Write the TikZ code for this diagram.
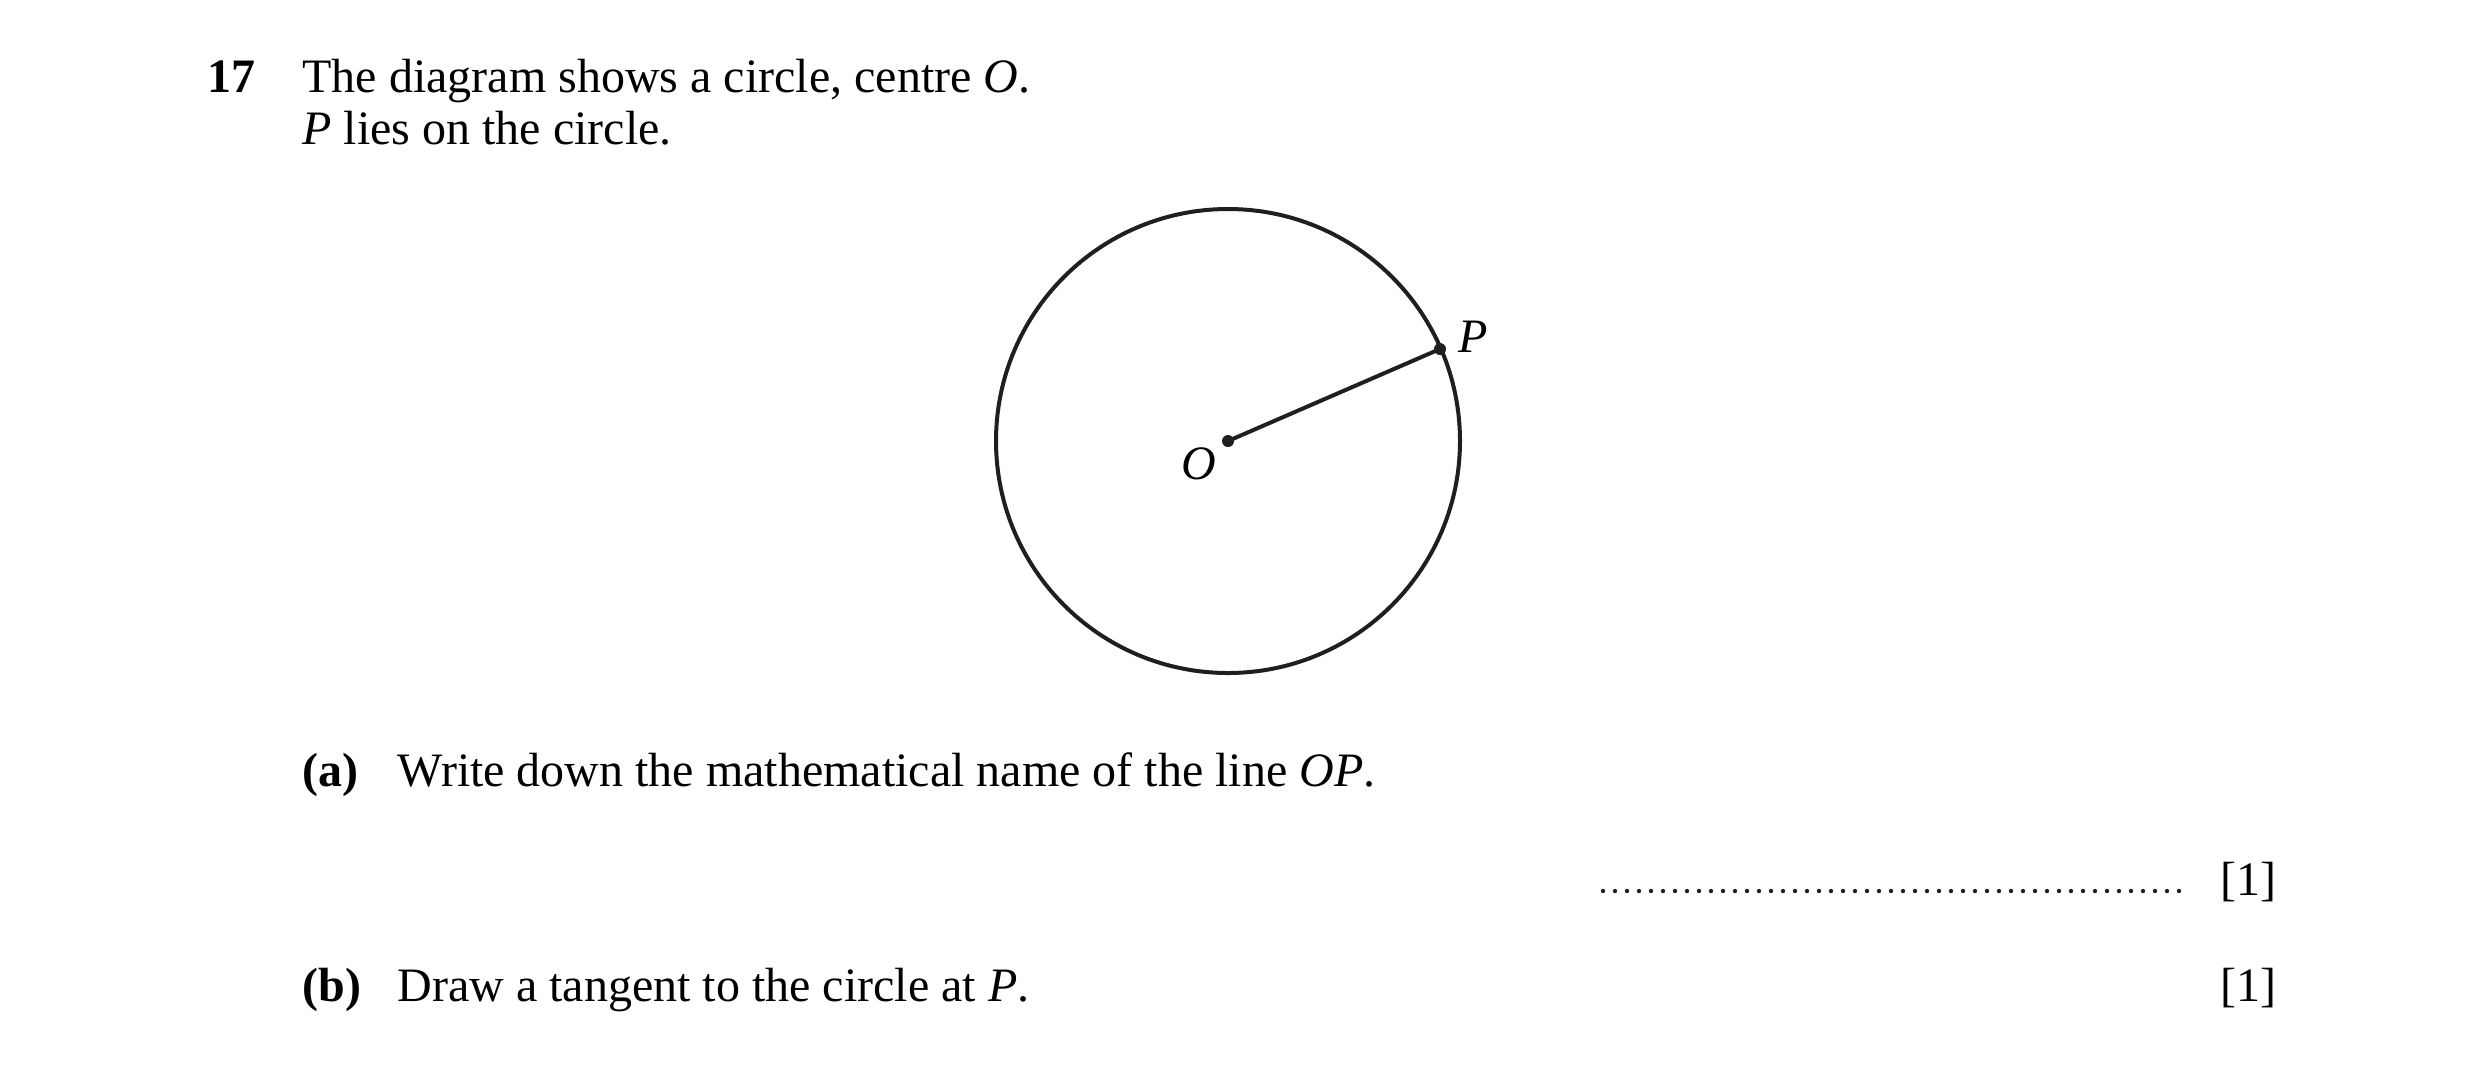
\documentclass[tikz,border=0pt]{standalone}
\usepackage{fontspec}
\setmainfont{Liberation Serif}
\begin{document}
\begin{tikzpicture}[x=0.3pt,y=-0.3pt,
  txt/.style={anchor=base west,inner sep=0pt,font=\fontsize{14.4pt}{17pt}\selectfont},
  lbl/.style={inner sep=0pt,font=\fontsize{14.4pt}{17pt}\selectfont\itshape},
  geo/.style={line width=1.2pt,draw=black!88}]
\useasboundingbox (0,0) rectangle (2481,1067);
\node[txt] (num) at (207,92) {\textbf{17}};
\node[txt] (l1) at (302,92) {The diagram shows a circle, centre \textit{O}.};
\node[txt] (l2) at (302,144) {\textit{P} lies on the circle.};
\coordinate (O) at (1228,441);
\coordinate (P) at (1440,349);
\draw[geo] (O) circle[radius=232];
\draw[geo] (O) -- (P);
\fill[black!88] (O) circle[radius=6];
\fill[black!88] (P) circle[radius=6];
\node[lbl] (Plbl) at (1473,337) {P};
\node[lbl] (Olbl) at (1199,464) {O};
\node[txt] (a) at (302,786) {\textbf{(a)}};
\node[txt] (at) at (397,786) {Write down the mathematical name of the line \textit{OP}.};
\coordinate (d1) at (1603,891);
\coordinate (d2) at (2182,891);
\draw[line width=1.3pt,line cap=round,dash pattern=on 0pt off 3.6pt,black!88] (d1) -- (d2);
\node[txt] (m1) at (2220,895) {[1]};
\node[txt] (b) at (302,1001) {\textbf{(b)}};
\node[txt] (bt) at (397,1001) {Draw a tangent to the circle at \textit{P}.};
\node[txt] (m2) at (2220,1001) {[1]};
\end{tikzpicture}
\end{document}
